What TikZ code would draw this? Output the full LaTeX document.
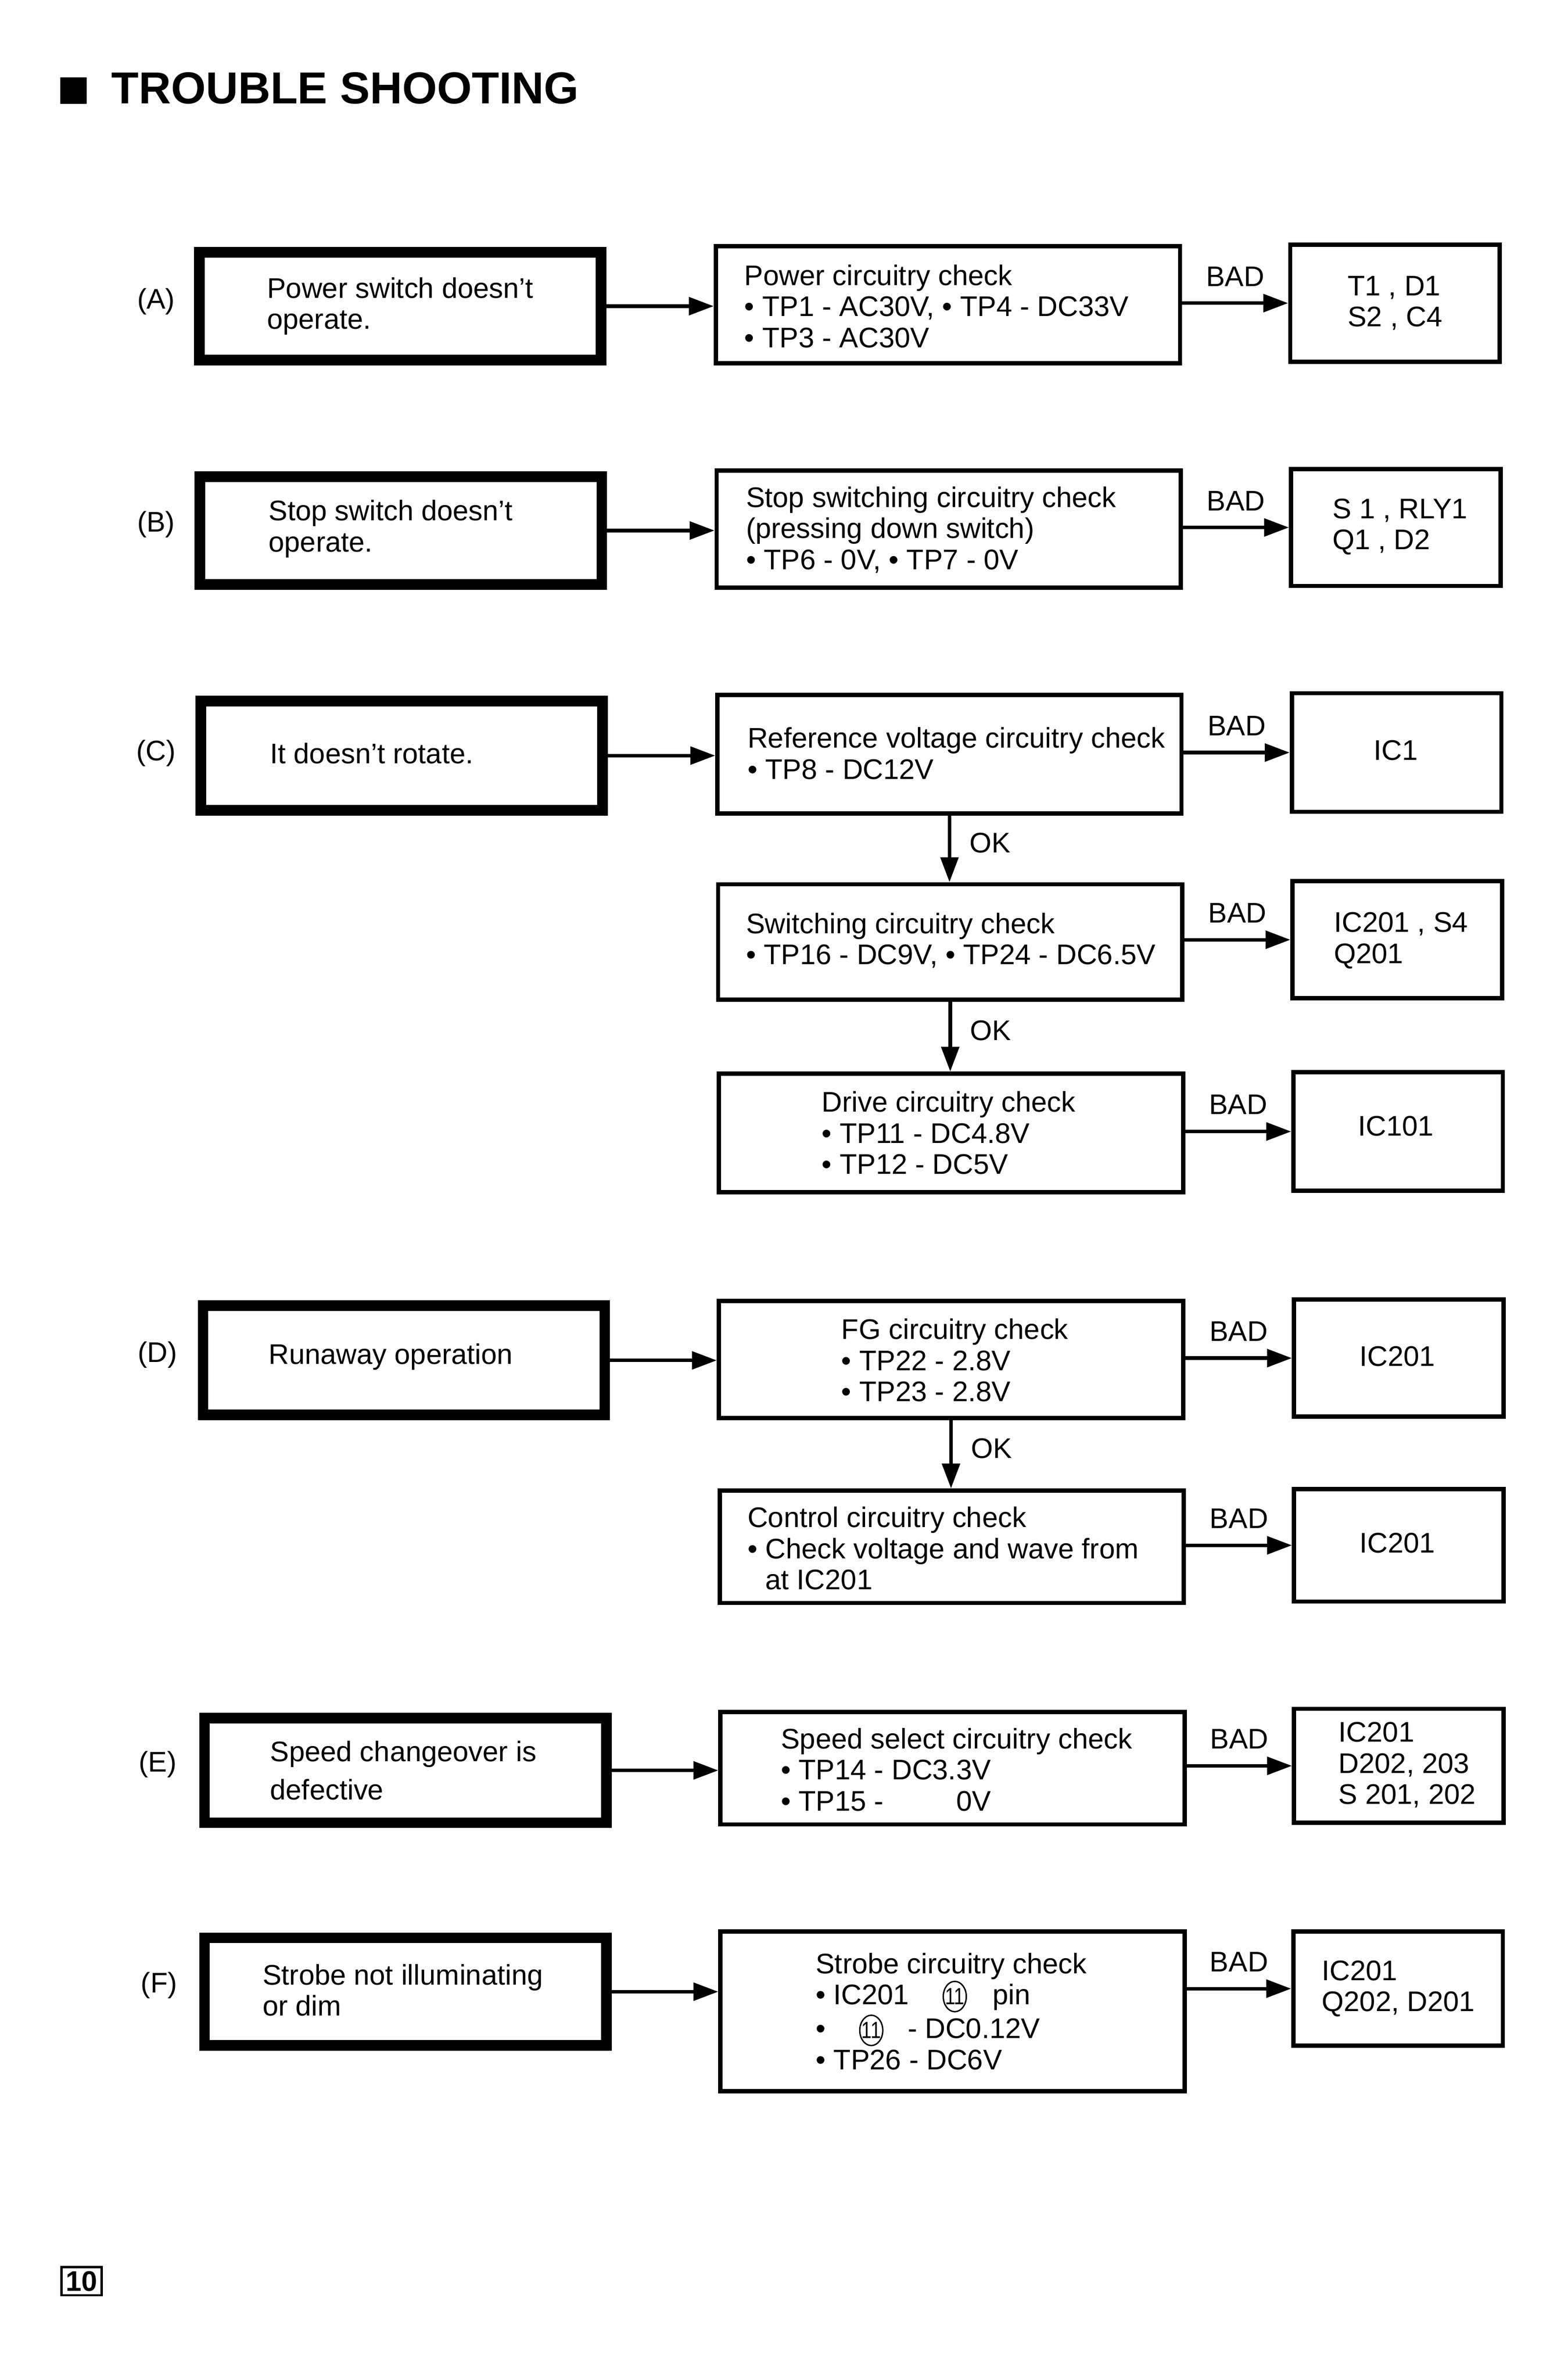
\documentclass[tikz,border=0pt]{standalone}
\usepackage{fontspec}
\setmainfont{Liberation Sans}
\usetikzlibrary{arrows.meta,calc}
\newcommand{\cnum}[1]{\tikz[baseline=(cnx.base)]{\node[inner sep=0pt,outer sep=0pt,font=\fontsize{11pt}{11pt}\selectfont](cnx){\scalebox{0.8}[1]{#1}};\draw[line width=0.65pt] (cnx.center) ellipse [x radius=0.19cm, y radius=0.25cm];}}
\tikzset{
  bodyfont/.style={font=\fontsize{13.3pt}{14.6pt}\selectfont},
  txt/.style={bodyfont, align=left, inner sep=0pt, anchor=west},
  ctxt/.style={bodyfont, inner sep=0pt},
  thickbox/.style={draw, line width=5pt, minimum width=6.625cm, inner sep=0pt},
  midbox/.style={draw, line width=2pt, minimum width=7.655cm, inner sep=0pt},
  rightbox/.style={draw, line width=2pt, minimum width=3.455cm, inner sep=0pt},
  arr/.style={line width=1.7pt, -{Triangle[length=0.41cm,width=0.29cm]}},
  badlbl/.style={bodyfont, inner sep=0pt, above, yshift=0.25cm},
  oklbl/.style={bodyfont, inner sep=0pt, right, xshift=0.3cm, yshift=0.1cm}
}
\begin{document}
\begin{tikzpicture}[x=0.025cm,y=-0.025cm]
\useasboundingbox (0,0) rectangle (1034.3,1570.2);
% title
\node[fill=black, minimum size=0.44cm, inner sep=0pt] (sq) at (48.5,59.8) {};
\node[anchor=base west, inner sep=0pt, font=\fontsize{21pt}{23pt}\selectfont\bfseries] (title) at (73.2,68.4) {TROUBLE SHOOTING};
% left boxes
\node[thickbox, minimum height=1.775cm] (LA) at (264,202) {};
\node[thickbox, minimum height=1.775cm] (LB) at (264.5,350) {};
\node[thickbox, minimum height=1.8cm] (LC) at (265,498.5) {};
\node[thickbox, minimum height=1.8cm] (LD) at (266.5,897.5) {};
\node[thickbox, minimum height=1.725cm] (LE) at (267.5,1168) {};
\node[thickbox, minimum height=1.775cm] (LF) at (267.5,1314) {};
% mid boxes
\node[midbox, minimum height=1.93cm] (MA) at (625.5,201) {};
\node[midbox, minimum height=1.93cm] (MB) at (626,349) {};
\node[midbox, minimum height=1.955cm] (MC1) at (626.5,497.5) {};
\node[midbox, minimum height=1.905cm] (MC2) at (627,621.5) {};
\node[midbox, minimum height=1.955cm] (MC3) at (627.5,747.5) {};
\node[midbox, minimum height=1.93cm] (MD1) at (627.5,897) {};
\node[midbox, minimum height=1.855cm] (MD2) at (628,1020.5) {};
\node[midbox, minimum height=1.855cm] (ME) at (628.5,1166.5) {};
\node[midbox, minimum height=2.63cm] (MF) at (628.5,1327) {};
% right boxes
\node[rightbox, minimum height=1.93cm] (RA) at (920.5,200) {};
\node[rightbox, minimum height=1.93cm] (RB) at (921,348) {};
\node[rightbox, minimum height=1.955cm] (RC1) at (921.5,496.5) {};
\node[rightbox, minimum height=1.93cm] (RC2) at (922,620) {};
\node[rightbox, minimum height=1.955cm] (RC3) at (922.5,746.5) {};
\node[rightbox, minimum height=1.93cm] (RD1) at (923,896) {};
\node[rightbox, minimum height=1.855cm] (RD2) at (923,1019.5) {};
\node[rightbox, minimum height=1.88cm] (RE) at (923,1165) {};
\node[rightbox, minimum height=1.88cm] (RF) at (922.5,1312) {};
% row labels
\node[ctxt] (labA) at (103,199) {(A)};
\node[ctxt] (labB) at (103,346) {(B)};
\node[ctxt] (labC) at (103,497) {(C)};
\node[ctxt] (labD) at (104,894) {(D)};
\node[ctxt] (labE) at (104,1164) {(E)};
\node[ctxt] (labF) at (105,1310) {(F)};
% left texts
\node[txt] (tLA) at (176,202) {Power switch doesn’t\\operate.};
\node[txt] (tLB) at (177,349) {Stop switch doesn’t\\operate.};
\node[txt] (tLC) at (178,497) {It doesn’t rotate.};
\node[txt] (tLD) at (177,895) {Runaway operation};
\node[txt] (tLE) at (178,1168) {Speed changeover is\\[3.2pt]defective};
\node[txt] (tLF) at (173,1313) {Strobe not illuminating\\or dim};
% mid texts
\node[txt] (tMA) at (491,202) {Power circuitry check\\• TP1 - AC30V, • TP4 - DC33V\\• TP3 - AC30V};
\node[txt] (tMB) at (492,349.5) {Stop switching circuitry check\\(pressing down switch)\\• TP6 - 0V, • TP7 - 0V};
\node[txt] (tMC1) at (493,497) {Reference voltage circuitry check\\• TP8 - DC12V};
\node[txt] (tMC2) at (492,620.5) {Switching circuitry check\\• TP16 - DC9V, • TP24 - DC6.5V};
\node[txt] (tMC3) at (542,747.5) {Drive circuitry check\\• TP11 - DC4.8V\\• TP12 - DC5V};
\node[txt] (tMD1) at (555,897.5) {FG circuitry check\\• TP22 - 2.8V\\• TP23 - 2.8V};
\node[txt] (tMD2) at (493,1021.5) {Control circuitry check\\• Check voltage and wave from\\\hphantom{• }at IC201};
\node[txt] (tME) at (515,1167.5) {Speed select circuitry check\\• TP14 - DC3.3V\\• TP15 - \hphantom{DC3.}0V};
\node[txt] (tMF) at (538,1327) {Strobe circuitry check\\• IC201\hspace{0.55cm}\cnum{11}\hspace{0.42cm}pin\\•\hspace{0.55cm}\cnum{11}\hspace{0.4cm}- DC0.12V\\• TP26 - DC6V};
% right texts
\node[txt] (tRA) at (889,200) {T1 , D1\\S2 , C4};
\node[txt] (tRB) at (879,347.5) {S 1 , RLY1\\Q1 , D2};
\node[ctxt] (tRC1) at (921,495) {IC1};
\node[txt] (tRC2) at (880,620.5) {IC201 , S4\\Q201};
\node[ctxt] (tRC3) at (921,743) {IC101};
\node[ctxt] (tRD1) at (922,895) {IC201};
\node[ctxt] (tRD2) at (922,1018) {IC201};
\node[txt] (tRE) at (883,1164.5) {IC201\\D202, 203\\S 201, 202};
\node[txt] (tRF) at (872,1312) {IC201\\Q202, D201};
% arrows left -> mid
\draw[arr] (LA.east) -- (LA.east -| MA.west);
\draw[arr] (LB.east) -- (LB.east -| MB.west);
\draw[arr] (LC.east) -- (LC.east -| MC1.west);
\draw[arr] (LD.east) -- (LD.east -| MD1.west);
\draw[arr] (LE.east) -- (LE.east -| ME.west);
\draw[arr] (LF.east) -- (LF.east -| MF.west);
% arrows mid -> right (BAD)
\draw[arr] (RA.west -| MA.east) -- node[badlbl] (bA) {BAD} (RA.west);
\draw[arr] (RB.west -| MB.east) -- node[badlbl] (bB) {BAD} (RB.west);
\draw[arr] (RC1.west -| MC1.east) -- node[badlbl] (bC1) {BAD} (RC1.west);
\draw[arr] (RC2.west -| MC2.east) -- node[badlbl] (bC2) {BAD} (RC2.west);
\draw[arr] (RC3.west -| MC3.east) -- node[badlbl] (bC3) {BAD} (RC3.west);
\draw[arr] (RD1.west -| MD1.east) -- node[badlbl] (bD1) {BAD} (RD1.west);
\draw[arr] (RD2.west -| MD2.east) -- node[badlbl] (bD2) {BAD} (RD2.west);
\draw[arr] (RE.west -| ME.east) -- node[badlbl] (bE) {BAD} (RE.west);
\draw[arr] (RF.west -| MF.east) -- node[badlbl] (bF) {BAD} (RF.west);
% vertical OK arrows
\draw[arr] (MC1.south) -- node[oklbl] (oC1) {OK} (MC1.south |- MC2.north);
\draw[arr] (MC2.south) -- node[oklbl] (oC2) {OK} (MC2.south |- MC3.north);
\draw[arr] (MD1.south) -- node[oklbl] (oD1) {OK} (MD1.south |- MD2.north);
% page number
\node[draw, line width=1.1pt, minimum width=0.665cm, minimum height=0.4625cm, inner sep=0pt, font=\fontsize{13.3pt}{14pt}\selectfont\bfseries] (pg) at (53.85,1505) {10};
\end{tikzpicture}
\end{document}
